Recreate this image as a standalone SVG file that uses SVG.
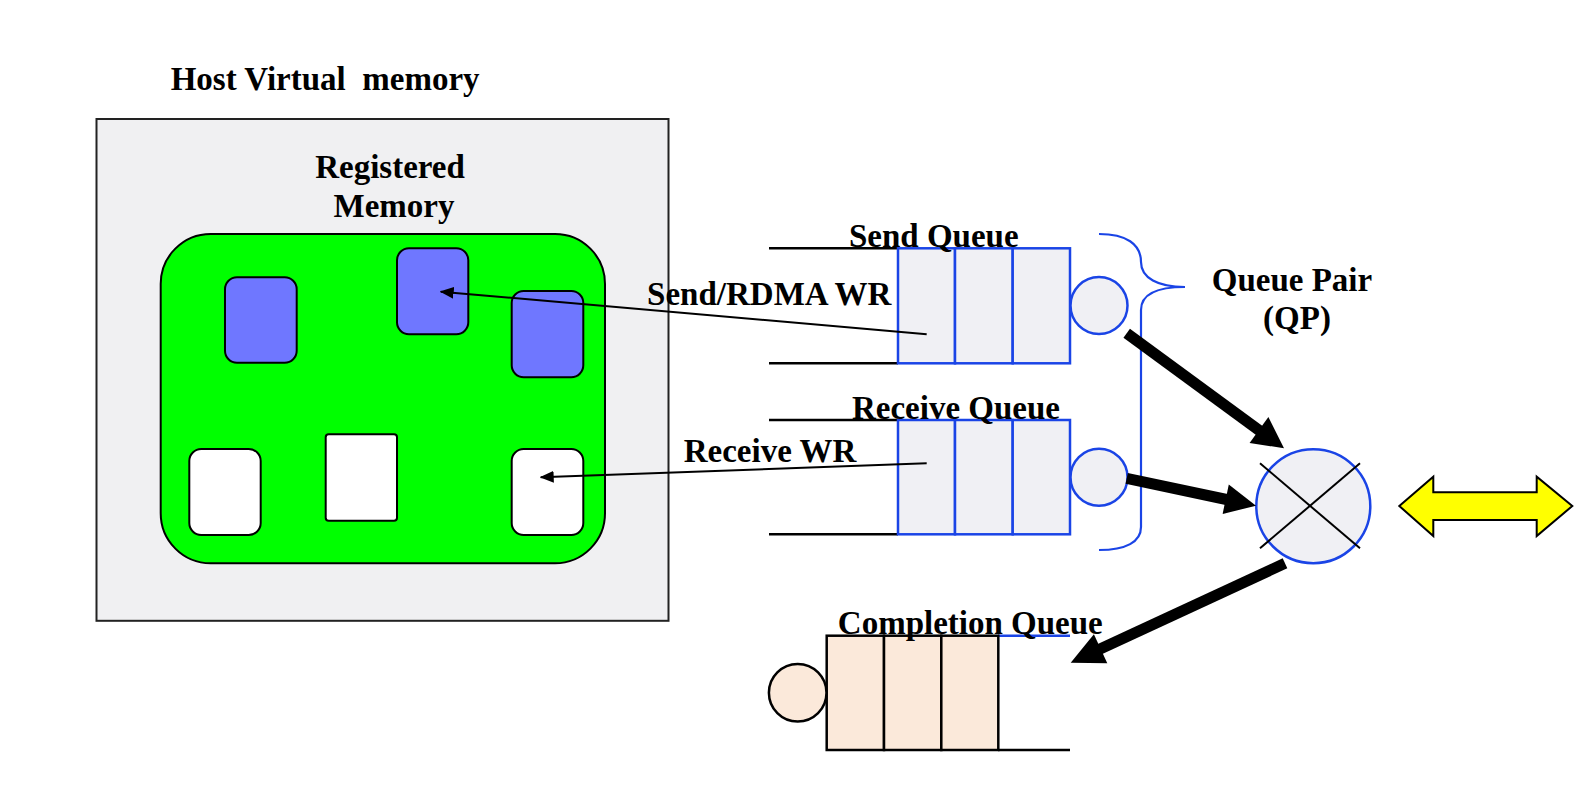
<svg xmlns="http://www.w3.org/2000/svg" width="1593" height="786" viewBox="0 0 1593 786">
<style>
.t{font-family:"Liberation Serif","Times New Roman",serif;font-weight:bold;font-size:33px;fill:#000}
.m{text-anchor:middle}
.blk{fill:#6f77ff;stroke:#000;stroke-width:2}
.wht{fill:#fff;stroke:#000;stroke-width:2}
.cell{fill:#f0f0f4;stroke:#1a44e6;stroke-width:2.5}
.ccell{fill:#fbe9da;stroke:#000;stroke-width:2.5}
.ql{stroke:#000;stroke-width:2.5;fill:none}
.thin{stroke:#000;stroke-width:2;fill:none;marker-end:url(#ah)}
.thick{stroke:#000;stroke-width:11;fill:none}
</style>
<defs>
<marker id="ah" markerWidth="14" markerHeight="12" refX="13" refY="6" orient="auto" markerUnits="userSpaceOnUse">
<path d="M0,0 L14,6 L0,12 Z" fill="#000"/>
</marker>
</defs>
<rect width="1593" height="786" fill="#fff"/>

<g id="host-memory">
<text class="t" x="170.7" y="90" xml:space="preserve">Host Virtual  memory</text>
<rect x="96.5" y="119" width="572" height="501.8" fill="#f0f0f2" stroke="#222" stroke-width="2"/>
</g>

<g id="registered-memory">
<text class="t m" x="390" y="178.3">Registered</text>
<text class="t m" x="394" y="216.7">Memory</text>
<rect x="160.7" y="234" width="444.3" height="329.3" rx="50" ry="50" fill="#00ff00" stroke="#000" stroke-width="2"/>
</g>

<g id="buffer-1"><rect class="blk" x="225" y="277.3" width="71.7" height="85.4" rx="12"/></g>
<g id="buffer-2"><rect class="blk" x="397" y="248.3" width="71.3" height="86" rx="12"/></g>
<g id="buffer-3"><rect class="blk" x="511.7" y="291" width="71.6" height="86.3" rx="12"/></g>
<g id="buffer-4"><rect class="wht" x="189.3" y="449" width="71.4" height="86" rx="12"/></g>
<g id="buffer-5"><rect class="wht" x="325.7" y="434.3" width="71.3" height="86.4" rx="3"/></g>
<g id="buffer-6"><rect class="wht" x="511.7" y="449" width="71.6" height="86" rx="12"/></g>

<g id="send-queue">
<line class="ql" x1="769" y1="248.3" x2="898" y2="248.3"/>
<line class="ql" x1="769" y1="363.3" x2="898" y2="363.3"/>
<rect class="cell" x="898" y="248.3" width="57" height="115"/>
<rect class="cell" x="955" y="248.3" width="57.7" height="115"/>
<rect class="cell" x="1012.7" y="248.3" width="57.3" height="115"/>
<circle class="cell" cx="1099" cy="305.5" r="28.5"/>
<text class="t m" x="933.8" y="247.3">Send Queue</text>
</g>

<g id="receive-queue">
<line class="ql" x1="769" y1="420" x2="898" y2="420"/>
<line class="ql" x1="769" y1="534.3" x2="898" y2="534.3"/>
<rect class="cell" x="898" y="420" width="57" height="114.3"/>
<rect class="cell" x="955" y="420" width="57.7" height="114.3"/>
<rect class="cell" x="1012.7" y="420" width="57.3" height="114.3"/>
<circle class="cell" cx="1099" cy="477.3" r="28.5"/>
<text class="t m" x="956" y="419.3">Receive Queue</text>
</g>

<g id="queue-pair">
<path d="M1099,234 C1126,234 1141,244 1141,262 C1141,278 1158,287 1185,287 M1185,287 C1158,287 1141,294 1141,310 L1141,527 C1141,542 1126,550 1099,550" fill="none" stroke="#1a44e6" stroke-width="2.2"/>
<text class="t m" x="1292" y="291">Queue Pair</text>
<text class="t m" x="1297" y="329">(QP)</text>
</g>

<g id="qp-mux">
<circle cx="1313.3" cy="506.2" r="57" fill="#f0f0f4" stroke="#1a44e6" stroke-width="2.5"/>
<line x1="1260" y1="463.3" x2="1360" y2="548.3" stroke="#000" stroke-width="2"/>
<line x1="1260" y1="548.3" x2="1360" y2="463.3" stroke="#000" stroke-width="2"/>
</g>

<g id="network-link">
<polygon points="1399.3,506 1433.3,476.7 1433.3,492.3 1536.7,492.3 1536.7,476.7 1572.3,506 1536.7,536 1536.7,520 1433.3,520 1433.3,536" fill="#ffff00" stroke="#000" stroke-width="2"/>
</g>

<g id="completion-queue">
<line x1="998" y1="635.7" x2="1070" y2="635.7" stroke="#1a44e6" stroke-width="2.5"/>
<line class="ql" x1="998" y1="750" x2="1070" y2="750"/>
<rect class="ccell" x="826.7" y="635.7" width="57.3" height="114.3"/>
<rect class="ccell" x="884" y="635.7" width="57.3" height="114.3"/>
<rect class="ccell" x="941.3" y="635.7" width="57" height="114.3"/>
<circle class="ccell" cx="797.7" cy="692.7" r="28.8"/>
<text class="t m" x="970.3" y="634.3">Completion Queue</text>
</g>

<g id="wr-labels">
<text class="t m" x="769.2" y="305">Send/RDMA WR</text>
<text class="t m" x="770" y="461.7">Receive WR</text>
</g>

<g id="connectors">
<line class="thin" x1="926.7" y1="334.3" x2="440.7" y2="291.7"/>
<line class="thin" x1="926.7" y1="463.3" x2="540.7" y2="477.3"/>
<line class="thick" x1="1126.7" y1="333.3" x2="1260" y2="431"/>
<polygon points="1284,448.3 1249.6,442.9 1268.4,417.1" fill="#000"/>
<line class="thick" x1="1126.7" y1="478.3" x2="1226.5" y2="499.5"/>
<polygon points="1256,505.7 1222.6,514 1228.8,484.6" fill="#000"/>
<line class="thick" x1="1285" y1="563.3" x2="1099" y2="649.5"/>
<polygon points="1070.7,662.7 1107.3,663.3 1093.9,634.3" fill="#000"/>
</g>
</svg>
